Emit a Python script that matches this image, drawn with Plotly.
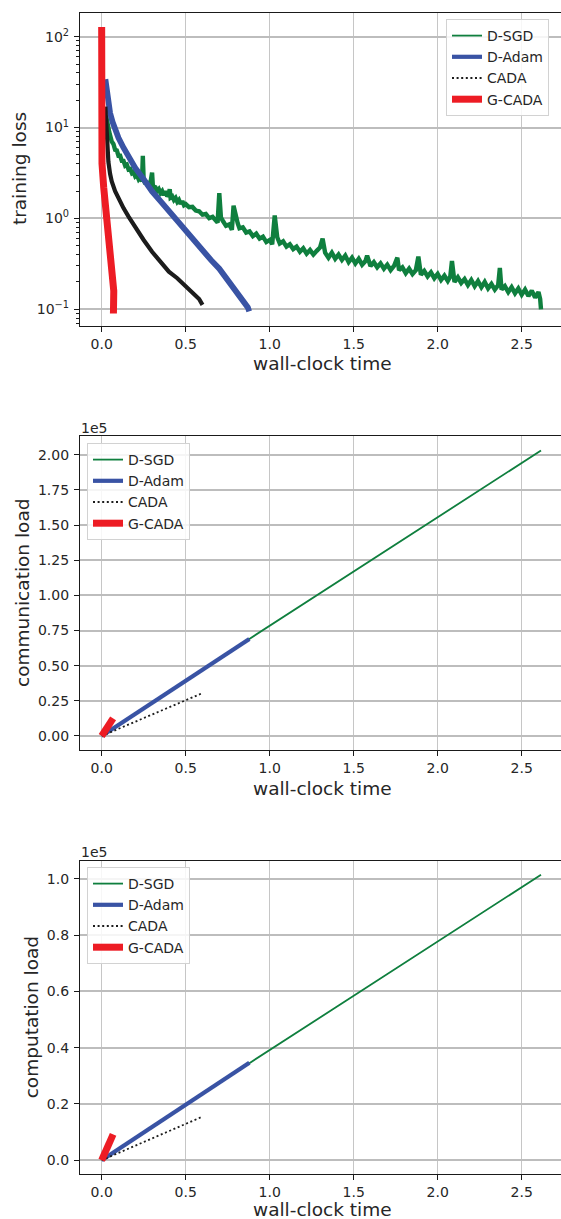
import plotly.graph_objects as go

# ---------------- data ----------------
series_names = ["D-SGD", "D-Adam", "CADA", "G-CADA"]

# Panel 1: training loss vs wall-clock time
sgd_loss_t = [0.028, 0.035, 0.045, 0.06, 0.07, 0.08, 0.09, 0.10, 0.11, 0.12, 0.13, 0.14, 0.15, 0.16, 0.17,
              0.18, 0.19, 0.20, 0.21, 0.22, 0.23, 0.24, 0.245, 0.25, 0.26, 0.27, 0.28, 0.29, 0.30, 0.305,
              0.32, 0.33, 0.34, 0.35, 0.36, 0.37, 0.38, 0.39, 0.40, 0.405, 0.41, 0.42, 0.43, 0.44, 0.45,
              0.46, 0.47, 0.48, 0.49,
              0.50, 0.52, 0.54, 0.56, 0.58, 0.60, 0.62, 0.64, 0.66, 0.68, 0.69, 0.70, 0.71, 0.72, 0.74,
              0.76, 0.775, 0.785, 0.795, 0.81, 0.82, 0.84, 0.86, 0.88, 0.90, 0.92, 0.94, 0.96, 0.98, 1.00,
              1.015, 1.03, 1.045, 1.06, 1.08, 1.10, 1.12, 1.14, 1.16, 1.18, 1.20, 1.22, 1.24, 1.26, 1.28,
              1.30, 1.315, 1.33, 1.35, 1.37, 1.39, 1.41, 1.43, 1.45, 1.47, 1.49, 1.51, 1.53, 1.55, 1.57,
              1.58, 1.60, 1.62, 1.64, 1.66, 1.68, 1.70, 1.72, 1.74, 1.76, 1.77, 1.79, 1.81, 1.83, 1.85,
              1.87, 1.885, 1.90, 1.92, 1.94, 1.96, 1.98, 2.00, 2.02, 2.04, 2.06, 2.075, 2.085, 2.10, 2.12,
              2.14, 2.16, 2.18, 2.20, 2.22, 2.24, 2.26, 2.28, 2.30, 2.32, 2.34, 2.36, 2.37, 2.38, 2.40,
              2.42, 2.44, 2.46, 2.48, 2.50, 2.52, 2.54, 2.56, 2.58, 2.60, 2.61, 2.615]
sgd_loss = [13.0, 10.5, 8.9, 7.0, 6.6, 5.7, 5.6, 4.9, 4.9, 4.3, 4.3, 3.8, 3.9, 3.45, 3.5,
            3.15, 3.25, 2.9, 3.0, 2.7, 2.85, 2.55, 4.9, 2.65, 2.4, 2.55, 2.3, 2.45, 3.2, 2.25,
            2.2, 2.0, 2.1, 1.9, 2.0, 1.8, 2.0, 1.75, 1.85, 2.1, 1.7, 1.75, 1.6, 1.68, 1.52,
            1.6, 1.45, 1.55, 1.4,
            1.44, 1.33, 1.34, 1.22, 1.20, 1.10, 1.12, 1.01, 1.04, 0.95, 0.90, 1.90, 1.02, 0.95, 0.83,
            0.86, 0.75, 1.38, 1.08, 0.88, 0.78, 0.80, 0.70, 0.72, 0.64, 0.68, 0.60, 0.63, 0.55, 0.58,
            0.52, 1.08, 0.62, 0.53, 0.56, 0.49, 0.52, 0.46, 0.49, 0.43, 0.47, 0.41, 0.45, 0.40, 0.44,
            0.48, 0.60, 0.42, 0.37, 0.42, 0.36, 0.40, 0.35, 0.39, 0.33, 0.37, 0.32, 0.36, 0.31, 0.34,
            0.39, 0.30, 0.33, 0.29, 0.32, 0.28, 0.31, 0.27, 0.30, 0.37, 0.27, 0.29, 0.25, 0.28, 0.245,
            0.27, 0.38, 0.24, 0.265, 0.23, 0.255, 0.22, 0.245, 0.21, 0.235, 0.205, 0.23, 0.34, 0.20, 0.225,
            0.195, 0.215, 0.185, 0.21, 0.18, 0.205, 0.175, 0.20, 0.17, 0.19, 0.165, 0.185, 0.285, 0.165, 0.18,
            0.155, 0.175, 0.15, 0.17, 0.145, 0.165, 0.14, 0.16, 0.135, 0.155, 0.13, 0.10]

adam_loss_t = [0.022, 0.03, 0.04, 0.05, 0.065, 0.08, 0.10, 0.13, 0.16, 0.20, 0.25, 0.30, 0.35, 0.40, 0.45,
               0.50, 0.55, 0.60, 0.65, 0.70, 0.75, 0.80, 0.84, 0.87, 0.878]
adam_loss = [34, 24, 18, 14.5, 11.5, 9.6, 7.7, 6.0, 4.8, 3.6, 2.7, 1.98, 1.55, 1.2, 0.98,
             0.72, 0.57, 0.45, 0.35, 0.28, 0.21, 0.165, 0.13, 0.105, 0.095]

cada_loss_t = [0.022, 0.025, 0.03, 0.035, 0.04, 0.05, 0.06, 0.08, 0.10, 0.13, 0.16, 0.20, 0.25, 0.30,
               0.35, 0.40, 0.45, 0.50, 0.55, 0.58, 0.60]
cada_loss = [17, 12, 7.5, 5.5, 4.2, 3.1, 2.55, 2.0, 1.67, 1.3, 1.05, 0.79, 0.58, 0.43,
             0.34, 0.26, 0.22, 0.18, 0.15, 0.13, 0.112]

gcada_loss_t = [0.0, 0.0, 0.002, 0.012, 0.025, 0.04, 0.055, 0.068, 0.072, 0.07]
gcada_loss = [128, 14, 4.0, 2.2, 1.2, 0.72, 0.4, 0.22, 0.16, 0.09]

# Panel 2: communication load vs wall-clock time
sgd_comm_t = [0.0, 0.879, 2.615]
sgd_comm = [0, 69000, 203000]
adam_comm_t = [0.0, 0.879]
adam_comm = [0, 69000]
cada_comm_t = [0.0, 0.6]
cada_comm = [0, 30500]
gcada_comm_t = [0.0, 0.068]
gcada_comm = [0, 12500]

# Panel 3: computation load vs wall-clock time
sgd_comp_t = [0.0, 0.879, 2.615]
sgd_comp = [0, 34500, 101500]
adam_comp_t = [0.0, 0.879]
adam_comp = [0, 34700]
cada_comp_t = [0.0, 0.6]
cada_comp = [0, 15500]
gcada_comp_t = [0.0, 0.068]
gcada_comp = [0, 9200]

# ticks
x_ticks = [0.0, 0.5, 1.0, 1.5, 2.0, 2.5]
x_tick_labels = ["0.0", "0.5", "1.0", "1.5", "2.0", "2.5"]
loss_ticks = [0.1, 1, 10, 100]
loss_tick_labels = ["10<sup>−1</sup>", "10<sup>0</sup>", "10<sup>1</sup>", "10<sup>2</sup>"]
comm_ticks = [0.0, 0.25, 0.5, 0.75, 1.0, 1.25, 1.5, 1.75, 2.0]
comm_tick_labels = ["0.00", "0.25", "0.50", "0.75", "1.00", "1.25", "1.50", "1.75", "2.00"]
comp_ticks = [0.0, 0.2, 0.4, 0.6, 0.8, 1.0]
comp_tick_labels = ["0.0", "0.2", "0.4", "0.6", "0.8", "1.0"]
offset_scale = 1e5
offset_label = "1e5"
x_title = "wall-clock time"
y_titles = ["training loss", "communication load", "computation load"]

# ---------------- style ----------------
W, H = 561, 1219
FONT = "DejaVu Sans"
TXT = "#262626"
C_SGD = "#0f7f3e"
C_ADAM = "#3953a4"
C_CADA = "#1c1c1c"
C_GCADA = "#ed1c24"
colors = [C_SGD, C_ADAM, C_CADA, C_GCADA]
leg_widths = [1.8, 4.2, 1.8, 7]
leg_dash = ["solid", "solid", "2px,2.6px", "solid"]


def px_x(p):
    return p / W


def px_y(p):
    return 1 - p / H


x_dom = [px_x(80), 1.0]
panels = [(12.5, 325.7), (436.0, 750.0), (860.7, 1174.0)]
x_range = [-0.129, 2.734]

fig = go.Figure()

# panel 1 curves
p1 = [(sgd_loss_t, sgd_loss, 4.4), (adam_loss_t, adam_loss, 5.8),
      (cada_loss_t, cada_loss, 4.2), (gcada_loss_t, gcada_loss, 7.0)]
for i, (t, v, w) in enumerate(p1):
    fig.add_trace(go.Scatter(x=t, y=v, mode="lines", name=series_names[i],
                             line=dict(color=colors[i], width=w),
                             showlegend=False, xaxis="x", yaxis="y", hoverinfo="skip"))
# panel 1 legend entries
for i in range(4):
    fig.add_trace(go.Scatter(x=[None], y=[None], mode="lines", name=series_names[i],
                             line=dict(color=colors[i], width=leg_widths[i], dash=leg_dash[i]),
                             xaxis="x", yaxis="y", legend="legend"))

p2 = [(sgd_comm_t, sgd_comm), (adam_comm_t, adam_comm), (cada_comm_t, cada_comm), (gcada_comm_t, gcada_comm)]
for i, (t, v) in enumerate(p2):
    fig.add_trace(go.Scatter(x=t, y=v, mode="lines", name=series_names[i],
                             line=dict(color=colors[i], width=leg_widths[i], dash=leg_dash[i]),
                             xaxis="x2", yaxis="y2", legend="legend2"))

p3 = [(sgd_comp_t, sgd_comp), (adam_comp_t, adam_comp), (cada_comp_t, cada_comp), (gcada_comp_t, gcada_comp)]
for i, (t, v) in enumerate(p3):
    fig.add_trace(go.Scatter(x=t, y=v, mode="lines", name=series_names[i],
                             line=dict(color=colors[i], width=leg_widths[i], dash=leg_dash[i]),
                             xaxis="x3", yaxis="y3", legend="legend3"))

tickfont = dict(family=FONT, size=14, color=TXT)


def xaxis(anchor):
    return dict(domain=x_dom, anchor=anchor, range=x_range, tickvals=x_ticks, ticktext=x_tick_labels,
                showline=True, mirror=True, linecolor="#1a1a1a", linewidth=1.3,
                ticks="outside", ticklen=5, tickwidth=1.2, tickcolor="#1a1a1a",
                showgrid=True, gridcolor="#c6c6c6", gridwidth=1.2, zeroline=False,
                tickfont=tickfont, automargin=False)


def yaxis(anchor, dom, **kw):
    d = dict(domain=dom, anchor=anchor, showline=True, mirror=False, linecolor="#1a1a1a", linewidth=1.3,
             ticks="outside", ticklen=5, tickwidth=1.2, tickcolor="#1a1a1a",
             showgrid=True, gridcolor="#bdbdbd", gridwidth=1.7, zeroline=False,
             tickfont=tickfont, automargin=False, ticklabelstandoff=2)
    d.update(kw)
    return d


doms = [[px_y(b), px_y(t)] for (t, b) in panels]

layout = dict(
    width=W, height=H, autosize=False,
    margin=dict(l=0, r=0, t=0, b=0),
    paper_bgcolor="white", plot_bgcolor="white",
    font=dict(family=FONT, color=TXT),
    xaxis=xaxis("y"), xaxis2=xaxis("y2"), xaxis3=xaxis("y3"),
    yaxis=yaxis("x", doms[0], type="log", range=[-1.18, 2.266],
                tickvals=loss_ticks, ticktext=loss_tick_labels,
                minor=dict(ticks="outside", ticklen=2.5, tickwidth=1, tickcolor="#1a1a1a",
                           dtick="D1", showgrid=False)),
    yaxis2=yaxis("x2", doms[1], range=[-0.0996 * offset_scale, 2.133 * offset_scale],
                 tickvals=[v * offset_scale for v in comm_ticks], ticktext=comm_tick_labels),
    yaxis3=yaxis("x3", doms[2], range=[-0.049 * offset_scale, 1.065 * offset_scale],
                 tickvals=[v * offset_scale for v in comp_ticks], ticktext=comp_tick_labels),
)

legfont = dict(family=FONT, size=14, color=TXT)
legcommon = dict(bgcolor="rgba(255,255,255,0.85)", bordercolor="#d2d2d2", borderwidth=1,
                 font=legfont, xanchor="left", yanchor="top", itemwidth=30, tracegroupgap=0)
layout["legend"] = dict(x=px_x(446), y=px_y(19), **legcommon)
layout["legend2"] = dict(x=px_x(87), y=px_y(443), **legcommon)
layout["legend3"] = dict(x=px_x(87), y=px_y(867), **legcommon)

annotations = []
xt_y = [363, 788, 1209]
yt_x = [19, 22, 31]
for i in range(3):
    tp, bt = panels[i]
    annotations.append(dict(text=x_title, x=px_x(322), y=px_y(xt_y[i]), xref="paper", yref="paper",
                            xanchor="center", yanchor="middle", showarrow=False,
                            font=dict(family=FONT, size=18.5, color=TXT)))
    annotations.append(dict(text=y_titles[i], x=px_x(yt_x[i]), y=px_y((tp + bt) / 2), xref="paper", yref="paper",
                            xanchor="center", yanchor="middle", showarrow=False, textangle=-90,
                            font=dict(family=FONT, size=18.5, color=TXT)))
for yy in [427.5, 851.5]:
    annotations.append(dict(text=offset_label, x=px_x(79), y=px_y(yy), xref="paper", yref="paper",
                            xanchor="left", yanchor="middle", showarrow=False,
                            font=dict(family=FONT, size=14, color=TXT)))
layout["annotations"] = annotations

fig.update_layout(**layout)
fig.write_html("out.html", config={"displayModeBar": False},
               post_script="document.body.style.margin='0px';document.body.style.padding='0px';"
                           "document.body.style.overflow='hidden';")
